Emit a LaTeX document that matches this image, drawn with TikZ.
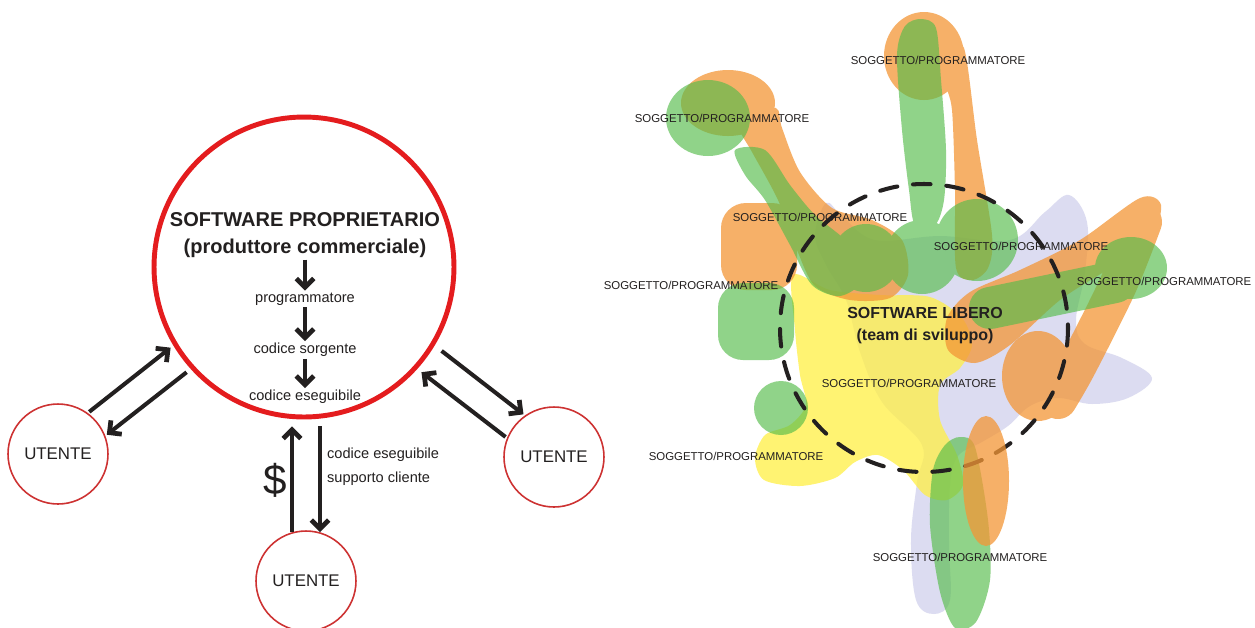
\documentclass[tikz,border=0pt]{standalone}
\usepackage{fontspec}
\setmainfont{Liberation Sans}
\usepackage{xcolor}
\usepackage{tikz}
\usetikzlibrary{arrows.meta, positioning, calc}
\definecolor{propred}{RGB}{228, 28, 30}
\definecolor{userred}{RGB}{205, 50, 50}
\definecolor{inkgray}{RGB}{35, 32, 32}
\definecolor{blobOrange}{RGB}{243, 150, 54}
\definecolor{blobGreen}{RGB}{85, 188, 74}
\definecolor{blobYellow}{RGB}{255, 239, 68}
\definecolor{blobLav}{RGB}{193, 193, 230}

\begin{document}
\begin{tikzpicture}[x=0.02cm, y=-0.02cm,
    flow/.style={line width=2.3pt, draw=inkgray, -{Straight Barb[length=5pt, width=10pt, line width=2.7pt]}},
    utente/.style={circle, draw=userred, line width=0.9pt, minimum size=2cm, inner sep=0pt, text=inkgray, font=\fontsize{9.6}{11}\selectfont},
    passo/.style={inner sep=1pt, text=inkgray, font=\fontsize{8.3}{10}\selectfont},
    sogg/.style={inner sep=0pt, text=inkgray, font=\fontsize{6.5}{7}\selectfont}]
    \useasboundingbox (0,0) rectangle (1255,627);
    \fill[white] (0,0) rectangle (1255,627);

    % software proprietario
    \node[circle, draw=propred, line width=2.8pt, minimum size=6cm, inner sep=0pt] (prop) at (304,267) {};
    \node[align=center, inner sep=1pt, text=inkgray, font=\bfseries\fontsize{11.4}{15.3}\selectfont] (tit) at (305,235) {SOFTWARE PROPRIETARIO\\(produttore commerciale)};
    \node[passo] (prg) at (305,299) {programmatore};
    \node[passo] (src) at (305,350) {codice sorgente};
    \node[passo] (exe) at (305,397) {codice eseguibile};
    \draw[flow] (tit) -- (prg);
    \draw[flow] (prg) -- (src);
    \draw[flow] (src) -- (exe);

    \node[utente] (u1) at (58,454) {UTENTE};
    \node[utente] (u2) at (306,581) {UTENTE};
    \node[utente] (u3) at (554,457) {UTENTE};
    \draw[flow, shorten <=1pt, shorten >=2pt] (u1.54) -- (prop.211);
    \draw[flow, shorten <=3pt, shorten >=1pt] (prop.222) -- (u1.21);
    \draw[flow, shorten <=5pt, shorten >=1pt] (prop.329) -- (u3.125);
    \draw[flow, shorten <=1pt, shorten >=3pt] (u3.158) -- (prop.318);
    \draw[flow, shorten >=4pt] (u2.106) -- (u2.106 |- prop.south);
    \draw[flow, shorten <=4pt] (u2.74 |- prop.south) -- (u2.74);
    \node[text=inkgray, font=\fontsize{24}{24}\selectfont] (dollaro) at (275,480) {\$};
    \node[passo, anchor=west, align=left, font=\fontsize{8.3}{13.6}\selectfont] (supp) at (325,467) {codice eseguibile\\supporto cliente};

    % software libero
    \begin{scope}[transparency group, opacity=0.55]
        \fill[blobLav] plot[smooth cycle, tension=0.6] coordinates {(815,235) (826,203) (842,216) (875,240) (940,236) (1010,240) (1045,212) (1069,195) (1087,222) (1085,272) (1076,320) (1085,344) (1122,358) (1152,378) (1128,398) (1092,404) (1058,398) (1030,406) (1008,426) (982,442) (958,456) (950,485) (949,545) (950,600) (934,614) (916,600) (911,540) (917,482) (922,445) (882,402) (860,352) (846,300) (826,265)};
    \end{scope}
    \begin{scope}[transparency group, opacity=0.75]
        \fill[blobYellow] plot[smooth cycle] coordinates {(793,275) (830,290) (880,295) (930,297) (962,318) (972,345) (960,368) (940,385) (940,420) (957,455) (963,485) (947,500) (925,495) (903,470) (878,455) (855,462) (835,478) (800,486) (764,480) (755,458) (765,435) (790,425) (806,405) (800,375) (795,330)};
    \end{scope}
    \begin{scope}[transparency group, opacity=0.75]
        \fill[blobOrange] (924,56) ellipse [x radius=40, y radius=44];
        \fill[blobOrange] plot[smooth cycle] coordinates {(948,60) (964,48) (977,140) (992,235) (988,268) (972,280) (956,268) (955,190) (952,110) (945,82)};
        \fill[blobOrange] (728,103) ellipse [x radius=47, y radius=33];
        \fill[blobOrange] plot[smooth cycle] coordinates {(748,118) (776,108) (782,128) (800,172) (832,208) (872,220) (902,240) (908,275) (890,298) (850,300) (815,286) (797,250) (778,200) (752,152) (740,130)};
        \fill[blobOrange, rounded corners=0.5cm] (721,203) rectangle (797,290);
        \fill[blobOrange] plot[smooth cycle] coordinates {(1140,198) (1161,205) (1150,240) (1110,268) (1060,300) (1010,345) (975,363) (948,350) (947,318) (970,292) (1020,270) (1080,240)};
        \draw[blobOrange, line width=0.76cm, line cap=round] plot[smooth] coordinates {(1143,222) (1118,285) (1078,365) (1058,400)};
        \fill[blobOrange] (1038,376) ellipse [x radius=36, y radius=45];
    \end{scope}
    \begin{scope}[transparency group, opacity=0.65]
        \fill[blobGreen] plot[smooth cycle] coordinates {(897,55) (905,26) (921,19) (936,28) (941,80) (946,150) (944,200) (935,225) (915,225) (909,190) (902,130)};
        \fill[blobGreen] (922,257) circle [radius=37];
        \fill[blobGreen] (977,240) circle [radius=41];
        \fill[blobGreen] (866,258) circle [radius=34];
        \fill[blobGreen] (708,118) ellipse [x radius=42, y radius=38];
        \fill[blobGreen] plot[smooth cycle] coordinates {(735,150) (765,150) (790,185) (815,215) (850,245) (862,280) (840,296) (812,285) (790,245) (765,200) (745,175)};
        \fill[blobGreen, rounded corners=0.5cm] (718,283) rectangle (794,360);
        \fill[blobGreen] (781,408) circle [radius=27];
        \fill[blobGreen] (1131,268) ellipse [x radius=36, y radius=31];
        \draw[blobGreen, line width=0.84cm, line cap=round] (990,308) -- (1115,282);
        \fill[blobGreen] plot[smooth cycle] coordinates {(945,445) (960,437) (975,447) (988,520) (990,580) (976,622) (955,628) (940,592) (930,525) (933,470)};
    \end{scope}
    \draw[inkgray, line width=2.3pt, dash pattern=on 10pt off 9pt, line cap=round] (924,328) circle [radius=144];
    \fill[blobOrange, opacity=0.75] (986,481) ellipse [x radius=23, y radius=65];

    \node[align=center, inner sep=1pt, text=inkgray, font=\bfseries\fontsize{9.1}{12.5}\selectfont] (libero) at (925,326) {SOFTWARE LIBERO\\(team di sviluppo)};
    \foreach \x/\y [count=\i] in {938/60, 722/118, 820/217, 1021/246, 691/285, 1164/281, 909/383, 736/456, 960/557}
        \node[sogg] (sogg\i) at (\x,\y) {SOGGETTO/PROGRAMMATORE};
\end{tikzpicture}
\end{document}
